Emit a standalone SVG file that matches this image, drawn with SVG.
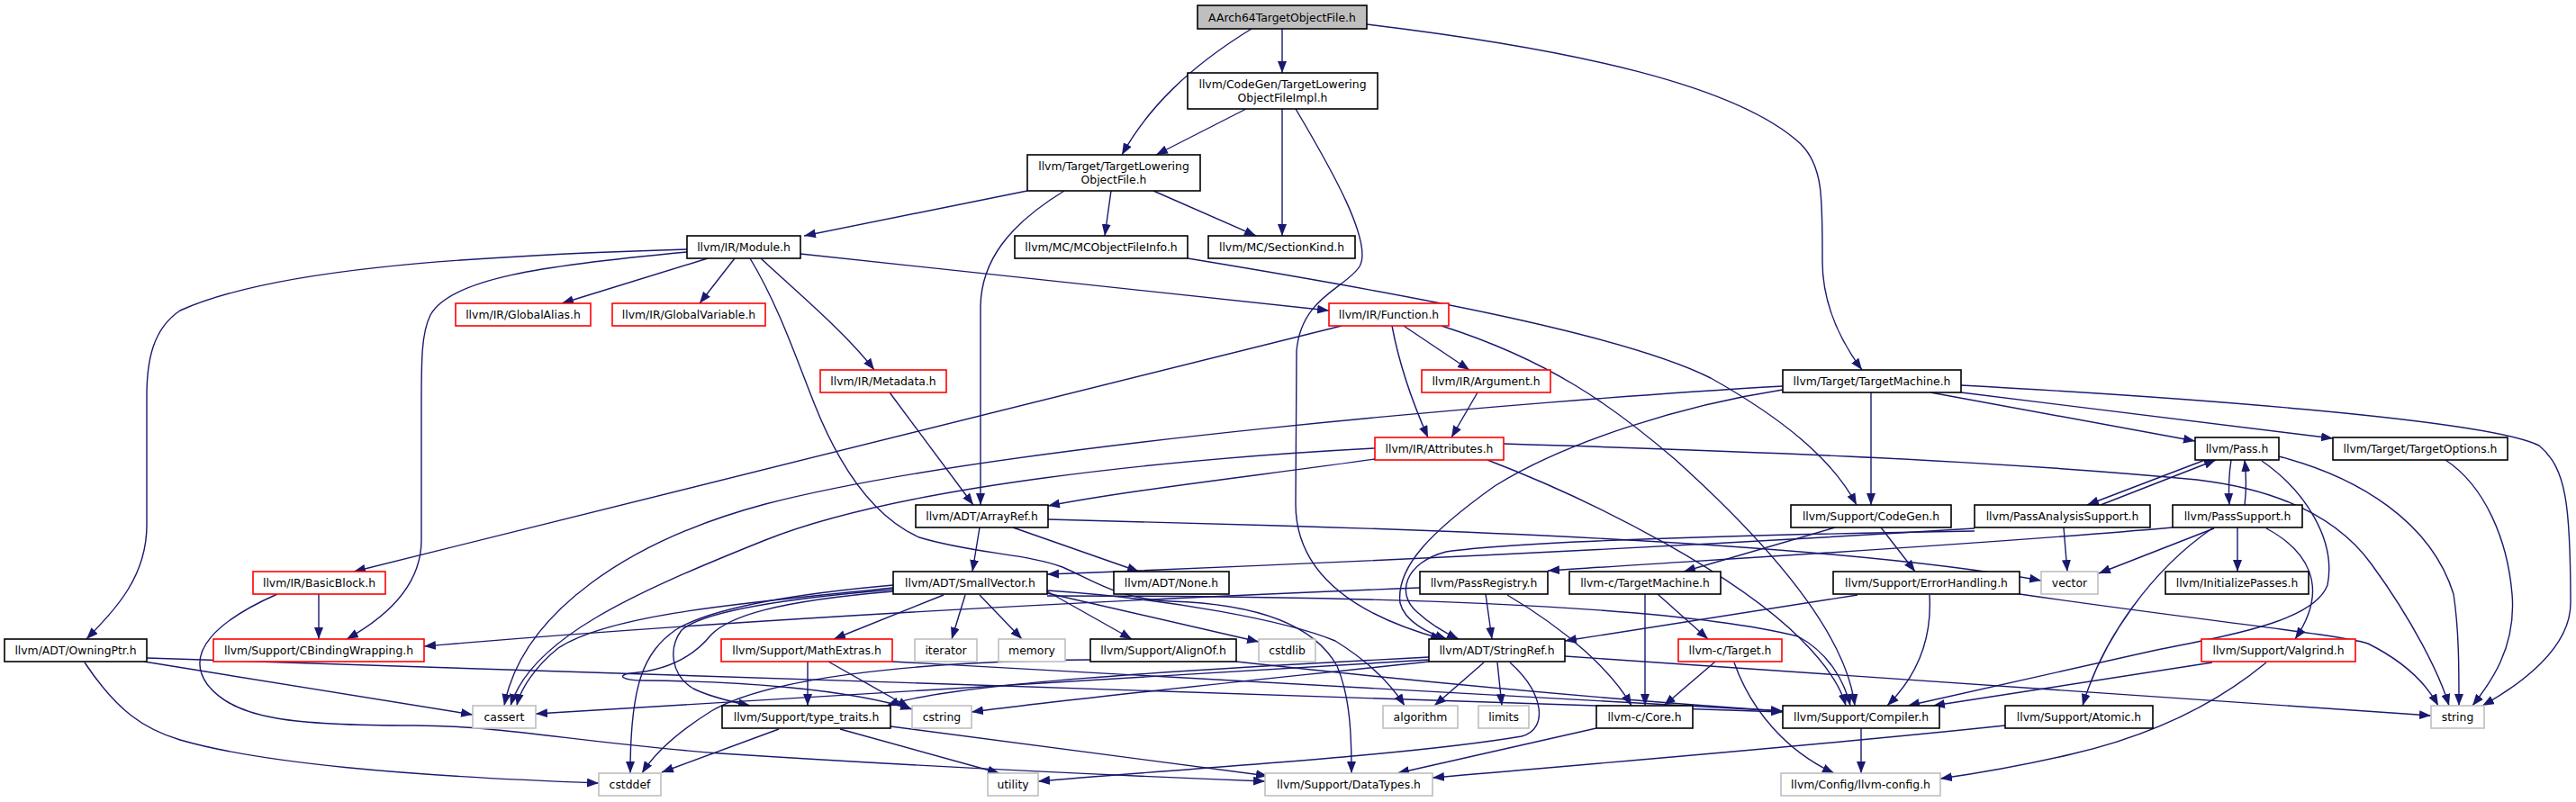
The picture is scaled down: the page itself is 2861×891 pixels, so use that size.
<svg xmlns="http://www.w3.org/2000/svg" width="2861" height="891" viewBox="0 0 2861 891">
<style>
.n rect{fill:#fff;stroke:#000;stroke-width:1.6}
.n.r rect{stroke:#ff0000}
.n.g rect{stroke:#bfbfbf}
.n.root rect{fill:#bfbfbf}
text{font-family:"DejaVu Sans","Noto Sans",sans-serif;font-size:12.4px;fill:#000;text-anchor:middle}
.e path{fill:none;stroke:#191970;stroke-width:1.4;marker-end:url(#a)}
</style>
<defs>
<marker id="a" markerUnits="userSpaceOnUse" markerWidth="14" markerHeight="11" refX="13" refY="5" orient="auto"><path d="M0,0 L13,5 L0,10 z" fill="#191970"/></marker>
</defs>
<rect width="2861" height="891" fill="#fff"/>
<g id="edges" class="e">
<path d="M1424,32 L1424,81"/>
<path d="M1390,32 C1320,75 1275,120 1246,172"/>
<path d="M1518,27 C1750,55 1930,95 2000,160 C2025,185 2024,220 2024,290 C2024,340 2045,380 2068,411"/>
<path d="M1384,121 L1284,172"/>
<path d="M1424,121 L1424,262"/>
<path d="M1439,121 C1480,190 1525,270 1510,296 C1495,320 1445,330 1440,390 L1439,560 C1439,640 1510,685 1602,710"/>
<path d="M1141,212 L893,262"/>
<path d="M1234,212 L1227,262"/>
<path d="M1281,212 L1395,262"/>
<path d="M1182,212 C1120,250 1090,290 1089,340 L1089,561"/>
<path d="M763,277 C500,285 300,300 200,345 C170,365 163,400 163,440 L163,583 C163,640 130,675 96,710"/>
<path d="M763,280 C600,295 500,310 478,350 C468,370 468,400 468,450 L468,600 C468,650 430,685 385,710"/>
<path d="M786,287 L624,337"/>
<path d="M816,287 L777,337"/>
<path d="M845,287 C880,320 940,370 971,411"/>
<path d="M889,282 L1476,345"/>
<path d="M833,287 C865,340 885,400 905,450 C925,500 960,570 1021,597 C1080,615 1140,615 1180,630 C1215,645 1240,665 1300,668 C1400,671 1460,695 1485,740 C1500,775 1501,820 1501,859"/>
<path d="M1490,362 L393,635"/>
<path d="M1559,362 L1632,411"/>
<path d="M1546,362 C1555,410 1570,450 1586,486"/>
<path d="M1601,362 C1720,400 1790,450 1860,510 C1960,600 2050,700 2060,784"/>
<path d="M1641,436 L1612,486"/>
<path d="M1980,429 C1700,445 1100,495 850,560 C700,600 580,680 560,784"/>
<path d="M1980,433 C1870,450 1740,490 1660,540 C1590,590 1550,630 1555,670 C1560,690 1585,703 1607,710"/>
<path d="M2078,436 L2078,561"/>
<path d="M2144,436 L2438,490"/>
<path d="M2178,436 L2591,487"/>
<path d="M2178,428 C2400,440 2760,465 2820,495 C2850,520 2855,560 2855,670 C2855,720 2800,760 2757,784"/>
<path d="M1319,287 C1550,325 1800,370 1900,420 C1980,465 2035,510 2062,561"/>
<path d="M988,436 L1081,561"/>
<path d="M1088,586 L1080,635"/>
<path d="M1125,586 L1265,635"/>
<path d="M1164,577 L1420,584 C1800,595 2100,615 2267,645"/>
<path d="M1527,510 C1400,528 1250,545 1164,562"/>
<path d="M1527,498 C1300,510 1000,540 850,600 C700,660 590,710 567,784"/>
<path d="M1670,493 C1900,500 2200,510 2440,533 C2540,545 2600,580 2634,627 C2680,690 2710,750 2720,784"/>
<path d="M1652,511 C1780,560 1930,640 2000,710 C2030,740 2045,765 2050,784"/>
<path d="M1048,661 L926,710"/>
<path d="M1072,661 L1057,710"/>
<path d="M1088,661 L1135,710"/>
<path d="M1163,657 L1257,710"/>
<path d="M1163,659 L1398,713"/>
<path d="M1163,656 C1300,665 1430,690 1483,712 C1520,735 1545,760 1560,784"/>
<path d="M1163,662 C1500,662 1850,670 1997,707 C2030,725 2048,755 2055,784"/>
<path d="M992,653 C850,668 680,680 620,720 C595,740 578,765 574,784"/>
<path d="M992,650 C880,660 790,675 750,700 C715,725 700,760 700,859"/>
<path d="M992,655 C870,665 780,680 757,700 C742,720 745,750 770,765 C790,775 815,780 833,784"/>
<path d="M992,657 C860,668 810,685 790,705 C770,730 740,745 700,748 C685,750 690,756 715,756 C820,757 940,765 1013,788"/>
<path d="M2292,586 L2296,635"/>
<path d="M2193,587 C1900,605 1500,625 1163,638"/>
<path d="M2193,590 C1950,594 1700,600 1606,613 C1560,625 1550,660 1574,680 C1590,695 1605,703 1620,710"/>
<path d="M2333,561 L2461,511"/>
<path d="M2449,511 L2318,561"/>
<path d="M2478,511 C2475,530 2475,545 2476,561"/>
<path d="M2493,561 C2495,545 2495,530 2493,511"/>
<path d="M2531,507 C2620,530 2700,580 2725,660 C2731,700 2731,740 2731,784"/>
<path d="M2512,512 C2560,545 2595,600 2585,650 C2570,690 2480,705 2391,723 C2290,745 2200,765 2119,784"/>
<path d="M2716,511 C2760,540 2785,600 2790,660 C2795,720 2765,760 2746,784"/>
<path d="M2413,586 C2200,605 1900,622 1719,634"/>
<path d="M2459,587 L2331,637"/>
<path d="M2485,586 L2485,635"/>
<path d="M2517,587 C2560,610 2590,650 2549,710"/>
<path d="M2457,587 C2390,633 2335,710 2313,784"/>
<path d="M2038,586 L1870,635"/>
<path d="M2089,586 L2127,635"/>
<path d="M2063,661 L1738,712"/>
<path d="M2143,661 C2146,710 2130,750 2096,784"/>
<path d="M2243,660 C2450,690 2600,705 2630,715 C2670,735 2695,760 2708,784"/>
<path d="M1827,660 L1827,784"/>
<path d="M1841,660 L1897,710"/>
<path d="M1650,660 L1657,710"/>
<path d="M1674,661 C1740,700 1790,745 1812,784"/>
<path d="M1577,653 C1200,668 800,690 471,718"/>
<path d="M1648,736 L1593,784"/>
<path d="M1663,736 L1668,784"/>
<path d="M1677,736 C1715,770 1720,810 1690,818 C1560,840 1300,855 1153,868"/>
<path d="M1738,729 C2100,755 2450,780 2700,795"/>
<path d="M1587,733 L595,793"/>
<path d="M1587,730 C1300,745 1050,760 985,784"/>
<path d="M1587,735 C1400,755 1200,775 1079,791"/>
<path d="M1905,735 L1848,784"/>
<path d="M1926,736 C1945,790 1985,835 2037,859"/>
<path d="M1773,809 L1552,859"/>
<path d="M2067,809 L2067,859"/>
<path d="M2227,806 C2000,830 1750,850 1591,864"/>
<path d="M2457,736 L2147,784"/>
<path d="M2517,736 C2470,775 2400,815 2300,838 C2240,852 2190,860 2155,865"/>
<path d="M160,735 L525,794"/>
<path d="M94,736 C130,790 160,810 200,822 C290,848 450,862 665,870"/>
<path d="M163,731 C700,752 1500,770 1980,791"/>
<path d="M354,660 L354,710"/>
<path d="M308,660 C240,690 205,725 230,760 C260,800 330,806 460,806 C560,806 640,825 800,837 C1000,850 1250,862 1405,868"/>
<path d="M897,735 L897,784"/>
<path d="M920,735 L1010,786"/>
<path d="M991,735 C1400,755 1700,775 1980,790"/>
<path d="M1211,733 C1000,735 850,755 790,790 C750,815 725,840 713,859"/>
<path d="M1373,735 C1600,760 1800,778 1980,790"/>
<path d="M865,810 L735,858"/>
<path d="M933,810 L1110,859"/>
<path d="M989,807 L1408,862"/>
</g>
<g id="n_root" class="n root"><rect x="1330" y="6" width="188" height="26"/><text x="1424" y="23.5">AArch64TargetObjectFile.h</text></g>
<g id="n_tlofimpl" class="n"><rect x="1319" y="81" width="211" height="40"/><text x="1424.5" y="97.5">llvm/CodeGen/TargetLowering</text><text x="1424.5" y="112.5">ObjectFileImpl.h</text></g>
<g id="n_tlof" class="n"><rect x="1141" y="172" width="192" height="40"/><text x="1237" y="188.5">llvm/Target/TargetLowering</text><text x="1237" y="203.5">ObjectFile.h</text></g>
<g id="n_module" class="n"><rect x="763" y="262" width="126" height="25"/><text x="826" y="278.5">llvm/IR/Module.h</text></g>
<g id="n_mcofi" class="n"><rect x="1127" y="262" width="192" height="25"/><text x="1223" y="278.5">llvm/MC/MCObjectFileInfo.h</text></g>
<g id="n_sectionkind" class="n"><rect x="1342" y="262" width="163" height="25"/><text x="1423.5" y="278.5">llvm/MC/SectionKind.h</text></g>
<g id="n_globalalias" class="n r"><rect x="506" y="337" width="150" height="25"/><text x="581" y="353.5">llvm/IR/GlobalAlias.h</text></g>
<g id="n_globalvariable" class="n r"><rect x="680" y="337" width="170" height="25"/><text x="765" y="353.5">llvm/IR/GlobalVariable.h</text></g>
<g id="n_function" class="n r"><rect x="1476" y="337" width="133" height="25"/><text x="1542.5" y="353.5">llvm/IR/Function.h</text></g>
<g id="n_metadata" class="n r"><rect x="911" y="411" width="140" height="25"/><text x="981" y="427.5">llvm/IR/Metadata.h</text></g>
<g id="n_argument" class="n r"><rect x="1579" y="411" width="143" height="25"/><text x="1650.5" y="427.5">llvm/IR/Argument.h</text></g>
<g id="n_targetmachine" class="n"><rect x="1980" y="411" width="198" height="25"/><text x="2079" y="427.5">llvm/Target/TargetMachine.h</text></g>
<g id="n_attributes" class="n r"><rect x="1527" y="486" width="143" height="25"/><text x="1598.5" y="502.5">llvm/IR/Attributes.h</text></g>
<g id="n_pass" class="n"><rect x="2438" y="486" width="93" height="25"/><text x="2484.5" y="502.5">llvm/Pass.h</text></g>
<g id="n_targetoptions" class="n"><rect x="2591" y="486" width="194" height="25"/><text x="2688" y="502.5">llvm/Target/TargetOptions.h</text></g>
<g id="n_arrayref" class="n"><rect x="1017" y="561" width="147" height="25"/><text x="1090.5" y="577.5">llvm/ADT/ArrayRef.h</text></g>
<g id="n_codegen" class="n"><rect x="1989" y="561" width="178" height="25"/><text x="2078" y="577.5">llvm/Support/CodeGen.h</text></g>
<g id="n_pas" class="n"><rect x="2193" y="561" width="195" height="25"/><text x="2290.5" y="577.5">llvm/PassAnalysisSupport.h</text></g>
<g id="n_passsupport" class="n"><rect x="2413" y="561" width="144" height="25"/><text x="2485" y="577.5">llvm/PassSupport.h</text></g>
<g id="n_basicblock" class="n r"><rect x="281" y="635" width="147" height="25"/><text x="354.5" y="651.5">llvm/IR/BasicBlock.h</text></g>
<g id="n_smallvector" class="n"><rect x="992" y="635" width="171" height="25"/><text x="1077.5" y="651.5">llvm/ADT/SmallVector.h</text></g>
<g id="n_none" class="n"><rect x="1237" y="635" width="128" height="25"/><text x="1301" y="651.5">llvm/ADT/None.h</text></g>
<g id="n_passregistry" class="n"><rect x="1577" y="635" width="142" height="25"/><text x="1648" y="651.5">llvm/PassRegistry.h</text></g>
<g id="n_ctargetmachine" class="n"><rect x="1743" y="635" width="168" height="25"/><text x="1827" y="651.5">llvm-c/TargetMachine.h</text></g>
<g id="n_errorhandling" class="n"><rect x="2036" y="635" width="207" height="25"/><text x="2139.5" y="651.5">llvm/Support/ErrorHandling.h</text></g>
<g id="n_vector" class="n g"><rect x="2267" y="635" width="63" height="25"/><text x="2298.5" y="651.5">vector</text></g>
<g id="n_initializepasses" class="n"><rect x="2405" y="635" width="159" height="25"/><text x="2484.5" y="651.5">llvm/InitializePasses.h</text></g>
<g id="n_owningptr" class="n"><rect x="5" y="710" width="158" height="25"/><text x="84" y="726.5">llvm/ADT/OwningPtr.h</text></g>
<g id="n_cbinding" class="n r"><rect x="237" y="710" width="234" height="25"/><text x="354" y="726.5">llvm/Support/CBindingWrapping.h</text></g>
<g id="n_mathextras" class="n r"><rect x="801" y="710" width="190" height="25"/><text x="896" y="726.5">llvm/Support/MathExtras.h</text></g>
<g id="n_iterator" class="n g"><rect x="1016" y="710" width="69" height="25"/><text x="1050.5" y="726.5">iterator</text></g>
<g id="n_memory" class="n g"><rect x="1109" y="710" width="74" height="25"/><text x="1146" y="726.5">memory</text></g>
<g id="n_alignof" class="n"><rect x="1211" y="710" width="162" height="25"/><text x="1292" y="726.5">llvm/Support/AlignOf.h</text></g>
<g id="n_cstdlib" class="n g"><rect x="1398" y="710" width="63" height="25"/><text x="1429.5" y="726.5">cstdlib</text></g>
<g id="n_stringref" class="n"><rect x="1587" y="710" width="151" height="25"/><text x="1662.5" y="726.5">llvm/ADT/StringRef.h</text></g>
<g id="n_ctarget" class="n r"><rect x="1864" y="710" width="115" height="25"/><text x="1921.5" y="726.5">llvm-c/Target.h</text></g>
<g id="n_valgrind" class="n r"><rect x="2445" y="710" width="171" height="25"/><text x="2530.5" y="726.5">llvm/Support/Valgrind.h</text></g>
<g id="n_cassert" class="n g"><rect x="525" y="784" width="70" height="25"/><text x="560" y="800.5">cassert</text></g>
<g id="n_typetraits" class="n"><rect x="802" y="784" width="187" height="25"/><text x="895.5" y="800.5">llvm/Support/type_traits.h</text></g>
<g id="n_cstring" class="n g"><rect x="1013" y="784" width="66" height="25"/><text x="1046" y="800.5">cstring</text></g>
<g id="n_algorithm" class="n g"><rect x="1536" y="784" width="83" height="25"/><text x="1577.5" y="800.5">algorithm</text></g>
<g id="n_limits" class="n g"><rect x="1642" y="784" width="56" height="25"/><text x="1670" y="800.5">limits</text></g>
<g id="n_core" class="n"><rect x="1773" y="784" width="107" height="25"/><text x="1826.5" y="800.5">llvm-c/Core.h</text></g>
<g id="n_compiler" class="n"><rect x="1980" y="784" width="174" height="25"/><text x="2067" y="800.5">llvm/Support/Compiler.h</text></g>
<g id="n_atomic" class="n"><rect x="2227" y="784" width="164" height="25"/><text x="2309" y="800.5">llvm/Support/Atomic.h</text></g>
<g id="n_string" class="n g"><rect x="2700" y="784" width="59" height="25"/><text x="2729.5" y="800.5">string</text></g>
<g id="n_cstddef" class="n g"><rect x="665" y="859" width="69" height="25"/><text x="699.5" y="875.5">cstddef</text></g>
<g id="n_utility" class="n g"><rect x="1097" y="859" width="56" height="25"/><text x="1125" y="875.5">utility</text></g>
<g id="n_datatypes" class="n g"><rect x="1405" y="859" width="186" height="25"/><text x="1498" y="875.5">llvm/Support/DataTypes.h</text></g>
<g id="n_llvmconfig" class="n g"><rect x="1978" y="859" width="177" height="25"/><text x="2066.5" y="875.5">llvm/Config/llvm-config.h</text></g>
</svg>
